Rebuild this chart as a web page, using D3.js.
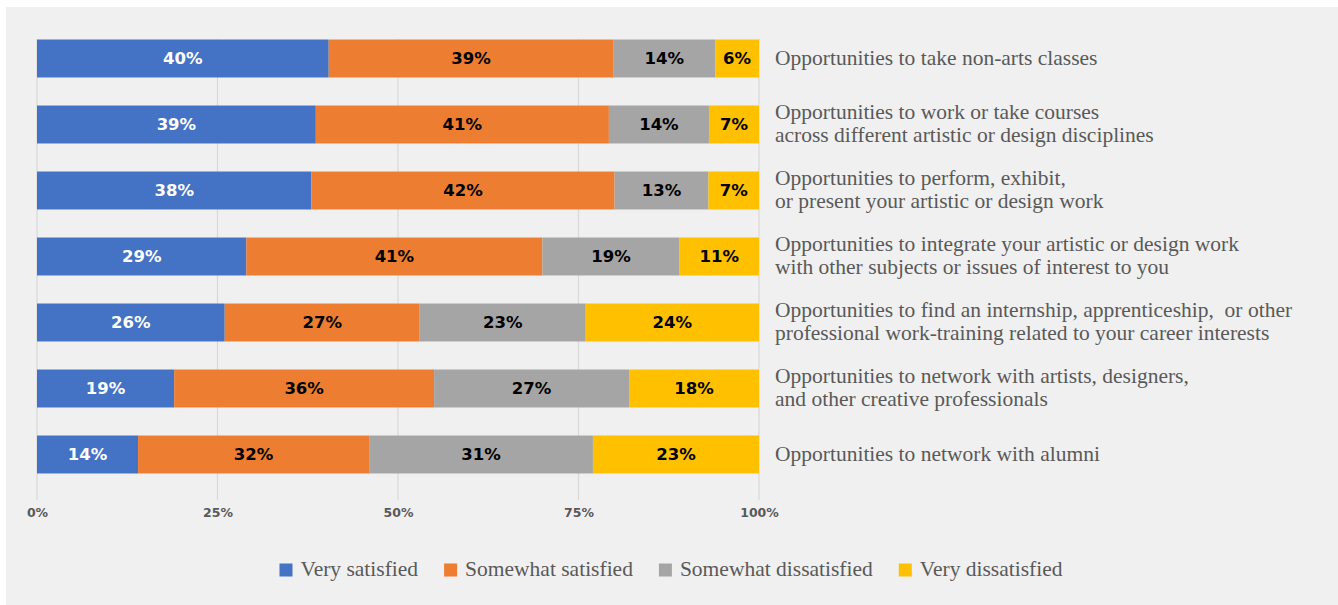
<!DOCTYPE html>
<html>
<head>
<meta charset="utf-8">
<script src="https://cdn.jsdelivr.net/npm/d3@7"></script>
<style>
  html, body { margin: 0; padding: 0; background: #ffffff; }
  svg { display: block; }
</style>
</head>
<body>
<svg id="chart" width="1338" height="605"></svg>
<script>
// Survey items, top to bottom (each label split into its display lines)
const categories = [
  ["Opportunities to take non-arts classes"],
  ["Opportunities to work or take courses", "across different artistic or design disciplines"],
  ["Opportunities to perform, exhibit,", "or present your artistic or design work"],
  ["Opportunities to integrate your artistic or design work", "with other subjects or issues of interest to you"],
  ["Opportunities to find an internship, apprenticeship,  or other", "professional work-training related to your career interests"],
  ["Opportunities to network with artists, designers,", "and other creative professionals"],
  ["Opportunities to network with alumni"]
];

// Percent of respondents per response level
const verySatisfied        = [40, 39, 38, 29, 26, 19, 14];
const somewhatSatisfied    = [39, 41, 42, 41, 27, 36, 32];
const somewhatDissatisfied = [14, 14, 13, 19, 23, 27, 31];
const veryDissatisfied     = [6, 7, 7, 11, 24, 18, 23];

const seriesNames = ["Very satisfied", "Somewhat satisfied", "Somewhat dissatisfied", "Very dissatisfied"];
const seriesColors = ["#4472C4", "#ED7D31", "#A5A5A5", "#FFC000"];
const seriesTextColors = ["#ffffff", "#000000", "#000000", "#000000"];

const tickValues = [0, 0.25, 0.5, 0.75, 1];
const tickLabels = ["0%", "25%", "50%", "75%", "100%"];

// Build rows for d3.stack
const seriesArrays = [verySatisfied, somewhatSatisfied, somewhatDissatisfied, veryDissatisfied];
const rows = categories.map((c, i) => {
  const r = { idx: i };
  seriesNames.forEach((s, j) => { r[s] = seriesArrays[j][i]; });
  return r;
});

const svg = d3.select("#chart");
const W = 1338, H = 605;
const serif = "Liberation Serif, serif";
const serifSize = 21.5;

// panel background
svg.append("rect").attr("x", 6).attr("y", 7).attr("width", W - 6).attr("height", H - 7).attr("fill", "#f0f0f0");

const x = d3.scaleLinear().domain([0, 1]).range([37, 759]);
const y = d3.scaleBand().domain(d3.range(categories.length)).range([25.5, 487.5]).paddingInner(0.425).paddingOuter(0.2125);

// vertical gridlines
svg.append("g").selectAll("line").data(tickValues).join("line")
  .attr("x1", d => x(d)).attr("x2", d => x(d))
  .attr("y1", 39).attr("y2", 500)
  .attr("stroke", "#d9d9d9").attr("stroke-width", 1.2);

// x axis tick labels
const axis = d3.axisBottom(x).tickValues(tickValues).tickFormat((d, i) => tickLabels[i]).tickSize(0).tickPadding(0);
const ax = svg.append("g").attr("transform", "translate(0,508)").call(axis);
ax.select(".domain").remove();
ax.selectAll("text")
  .attr("font-family", "DejaVu Sans, sans-serif")
  .attr("font-weight", "bold")
  .attr("font-size", 12.5)
  .attr("fill", "#595959")
  .attr("dy", "0.71em");

// stacked bars, each row normalised to 100%
const stack = d3.stack().keys(seriesNames).offset(d3.stackOffsetExpand);
const stacked = stack(rows);

const layers = svg.append("g").selectAll("g").data(stacked).join("g")
  .attr("fill", (d, i) => seriesColors[i]);

layers.selectAll("rect").data(d => d).join("rect")
  .attr("x", d => x(d[0]))
  .attr("width", d => x(d[1]) - x(d[0]))
  .attr("y", d => y(d.data.idx))
  .attr("height", y.bandwidth());

// value labels centred in each segment
stacked.forEach((layer, i) => {
  svg.append("g").selectAll("text").data(layer).join("text")
    .attr("x", d => (x(d[0]) + x(d[1])) / 2)
    .attr("y", d => y(d.data.idx) + y.bandwidth() / 2)
    .attr("dy", "0.36em")
    .attr("text-anchor", "middle")
    .attr("font-family", "DejaVu Sans, sans-serif")
    .attr("font-weight", "bold")
    .attr("font-size", 16.5)
    .attr("fill", seriesTextColors[i])
    .text(d => d.data[layer.key] + "%");
});

// category labels to the right of the bars
const lineH = 23;
const catG = svg.append("g");
categories.forEach((lines, i) => {
  const cy = y(i) + y.bandwidth() / 2;
  const t = catG.append("text")
    .attr("font-family", serif)
    .attr("font-size", serifSize)
    .attr("fill", "#595959");
  lines.forEach((ln, k) => {
    t.append("tspan")
      .attr("x", 775)
      .attr("y", cy + (k - (lines.length - 1) / 2) * lineH)
      .attr("dy", "0.28em")
      .attr("xml:space", "preserve")
      .text(ln);
  });
});

// legend, centred under the plot
const legend = svg.append("g");
const sw = 13, gapText = 8, gapItem = 26;
let cursor = 0;
seriesNames.forEach((name, i) => {
  const g = legend.append("g");
  g.append("rect").attr("width", sw).attr("height", sw).attr("y", -sw / 2).attr("fill", seriesColors[i]);
  const t = g.append("text")
    .attr("x", sw + gapText)
    .attr("dy", "0.3em")
    .attr("font-family", serif)
    .attr("font-size", serifSize)
    .attr("fill", "#595959")
    .text(name);
  const w = sw + gapText + t.node().getComputedTextLength();
  g.attr("transform", `translate(${cursor},0)`);
  cursor += w + gapItem;
});
const legendWidth = cursor - gapItem;
legend.attr("transform", `translate(${671 - legendWidth / 2},570)`);
</script>
</body>
</html>
